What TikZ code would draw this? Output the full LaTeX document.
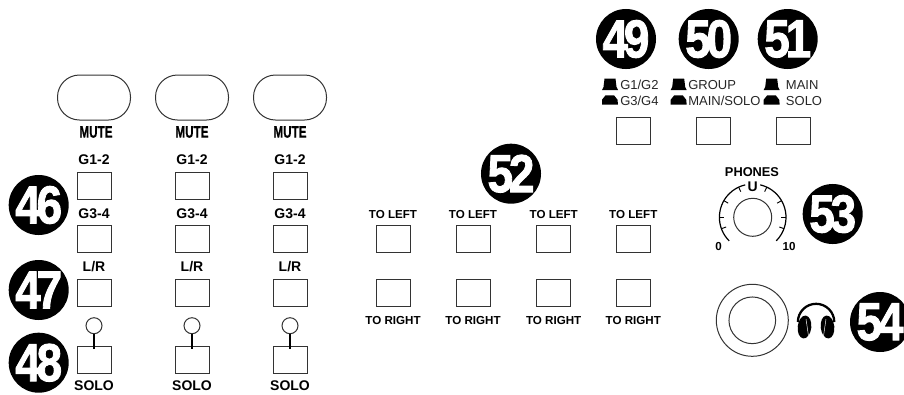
\documentclass[tikz,border=0pt]{standalone}
\usepackage{fontspec}
\setmainfont{Liberation Sans}
\newfontfamily\badgefont[FakeBold=1.8]{Liberation Sans Bold}
\newfontfamily\mutefont[FakeBold=0.8]{Liberation Sans Bold}
\definecolor{linegray}{gray}{0.2}
\tikzset{
  btn/.style={draw=linegray,line width=0.75pt,minimum width=25.5pt,minimum height=20.25pt,inner sep=0pt},
  oval/.style={draw=linegray,line width=0.75pt,minimum width=54.75pt,minimum height=33.75pt,rounded corners=16.5pt,inner sep=0pt},
  ring/.style={circle,draw=linegray,line width=0.75pt,inner sep=0pt},
  badge/.style={circle,fill=black,text=white,minimum size=45pt,inner sep=0pt,font=\badgefont\fontsize{40}{40}\selectfont},
  lab/.style={inner sep=0pt,font=\bfseries\fontsize{10.5}{12}\selectfont},
  smalllab/.style={inner sep=0pt,font=\bfseries\fontsize{8.7}{10}\selectfont},
  plain/.style={inner sep=0pt,anchor=west,text=black!85,font=\fontsize{9.75}{11}\selectfont},
  arcline/.style={draw=black,line width=0.9pt}
}
\newcommand{\upicon}[1]{\fill[black] (#1,90) -- ++(16,0) -- ++(-1.5,-3) -- ++(-1,-8.3) -- ++(-11,0) -- ++(-1,8.3) -- cycle;}
\newcommand{\dnicon}[1]{\fill[black] (#1,104.7) -- ++(16,0) -- ++(-.5,-5) -- ++(-3.5,-4.4) -- ++(-8.5,0) -- ++(-3.5,4.4) -- cycle;}
\newcommand{\bnum}[2]{\scalebox{.86}[1]{#1\kern-3.6pt #2}}
\begin{document}
\begin{tikzpicture}[x=0.75pt,y=-0.75pt]
\useasboundingbox (0,0) rectangle (904,394);
\clip (0,0) rectangle (904,394);
% channel strips
\foreach \i/\x/\m in {1/94/96,2/192/192,3/290/290}{
  \node[oval] (oval\i) at (\x,97.5) {};
  \node[inner sep=0pt,font=\mutefont\fontsize{12.5}{14}\selectfont] (mute\i) at (\m,132) {\scalebox{.7}[1]{MUTE}};
  \node[lab] (ga\i) at (\x,160) {G1-2};
  \node[btn] (bga\i) at (\x,186) {};
  \node[lab] (gb\i) at (\x,214) {G3-4};
  \node[btn] (bgb\i) at (\x,239.3) {};
  \node[lab] (lr\i) at (\x,267) {L/R};
  \node[btn] (blr\i) at (\x,293) {};
  \node[ring,minimum size=12pt] (led\i) at (\x,325.7) {};
  \node[btn] (bsolo\i) at (\x,359.5) {};
  \node[lab] (solo\i) at (\x,386) {SOLO};
  \draw[draw=black,line width=0.9pt] (led\i.south) -- ([yshift=-2.5pt]bsolo\i.north);
}
% pan section
\foreach \i/\x in {1/393,2/473,3/553.7,4/633.3}{
  \node[smalllab] (tl\i) at (\x,214) {TO LEFT};
  \node[btn] (btl\i) at (\x,239.3) {};
  \node[btn] (btr\i) at (\x,292.7) {};
  \node[smalllab] (tr\i) at (\x,320.7) {TO RIGHT};
}
% top right switches
\foreach \i/\x in {1/633,2/713,3/793}{
  \node[btn] (top\i) at (\x,131) {};
}
\upicon{602}\dnicon{602}
\upicon{670.7}\dnicon{670.7}
\upicon{763.7}\dnicon{763.7}
\node[plain] (t1a) at (620,84.7) {G1/G2};
\node[plain] (t1b) at (620,100.7) {G3/G4};
\node[plain] (t2a) at (688,84.7) {GROUP};
\node[plain] (t2b) at (688,100.7) {MAIN/SOLO};
\node[plain] (t3a) at (785.7,84.7) {MAIN};
\node[plain] (t3b) at (785.7,100.7) {SOLO};
% phones knob
\node[smalllab,font=\bfseries\fontsize{9.6}{11}\selectfont] (phones) at (752,172) {PHONES};
\node[smalllab,font=\bfseries\fontsize{10.5}{12}\selectfont] (uu) at (752.7,186.7) {U};
\node[smalllab] (zero) at (718.7,246.7) {0};
\node[smalllab] (ten) at (789,246.7) {10};
\node[ring,minimum size=28.5pt] (knob) at (752.7,217.3) {};
\draw[arcline] (knob.center) ++(-225:33.3) arc[start angle=-225,end angle=-103,radius=33.3];
\draw[arcline] (knob.center) ++(-77:33.3) arc[start angle=-77,end angle=45,radius=33.3];
\foreach \a in {200,180,150,115,65,30,0,-20}{
  \draw[arcline,line width=0.7pt] (knob.center) ++({-\a}:33.3) -- ++({-\a}:-5);
}
% jack and headphones
\node[ring,minimum size=54pt] (jack) at (752.3,320.3) {};
\node[ring,minimum size=35pt] (jackin) at (752.3,320.3) {};
\coordinate (hp) at (816,322);
\draw[black,line width=1.7pt] ([xshift=-13.6pt]hp) arc[start angle=180,end angle=360,radius=18.2];
\fill[black,rotate around={-6:(804.5,327)}] (804.5,327) ellipse[x radius=6.8,y radius=11.5];
\fill[black,rotate around={6:(827.5,327)}] (827.5,327) ellipse[x radius=6.8,y radius=11.5];
\draw[white,line width=0.35pt] (806,319) -- (808.5,336);
\draw[white,line width=0.35pt] (826,319) -- (823.5,336);
% badges
\node[badge] (n46) at (38.7,205) {\bnum{4}{6}};
\node[badge] (n47) at (38.7,290) {\bnum{4}{7}};
\node[badge] (n48) at (38.7,362.7) {\bnum{4}{8}};
\node[badge] (n49) at (626,39) {\bnum{4}{9}};
\node[badge] (n50) at (708.7,39) {\bnum{5}{0}};
\node[badge] (n51) at (787.7,39) {\bnum{5}{1}};
\node[badge] (n52) at (511,173.7) {\bnum{5}{2}};
\node[badge] (n53) at (832.7,214) {\bnum{5}{3}};
\node[badge] (n54) at (880,322) {\bnum{5}{4}};
\end{tikzpicture}
\end{document}
